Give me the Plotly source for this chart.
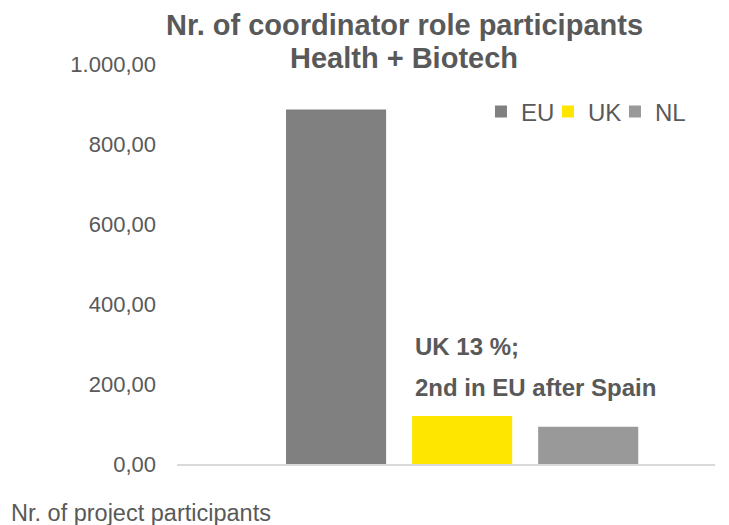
# %% Imports
import plotly.graph_objs as go

# %% Data
categories = ["Health + Biotech"]
series_names = ["EU", "UK", "NL"]
series_values = [[886], [120], [93]]
series_colors = ["#808080", "#FFE600", "#999999"]
y_ticks = [0, 200, 400, 600, 800, 1000]

title_lines = ["Nr. of coordinator role participants", "Health + Biotech"]
note_lines = ["UK 13 %;", "2nd in EU after Spain"]
axis_note = "Nr. of project participants"

txt = "#595959"
font = "Liberation Sans, Arial, sans-serif"

# %% Figure
# the page adds an 8px body margin, so the figure is a little smaller
fig = go.Figure()
for name, vals, col in zip(series_names, series_values, series_colors):
    # tight legend entries like excel's; last one wider so its text fits
    lw = 36 if name == series_names[-1] else 22
    fig.add_trace(go.Bar(x=categories, y=vals, name=name, legendwidth=lw,
                         marker={'color': col, 'line': {'width': 0}}))

fig.update_layout(
    width=721, height=517,
    margin={'l': 169, 'r': 14, 't': 56, 'b': 61},
    paper_bgcolor="white", plot_bgcolor="white",
    separators=",.",
    barmode="group", bargap=0.297, bargroupgap=0.206,
    font={'family': font, 'color': txt, 'size': 22},
    title={'text': "<b>" + title_lines[0] + "</b>",
           'x': 0.55, 'xanchor': 'center',
           'y': 0.967, 'yanchor': 'middle', 'yref': 'container',
           'font': {'size': 29, 'color': txt}},
    legend={'orientation': 'h', 'x': 0.565, 'xanchor': 'left',
            'y': 0.88, 'yanchor': 'middle',
            'font': {'size': 24, 'color': txt},
            'bgcolor': 'rgba(0,0,0,0)', 'traceorder': 'normal'},
    showlegend=True,
)
# second title line, set a bit tighter than plotly's <br> spacing
fig.add_annotation(text="<b>" + title_lines[1] + "</b>", xref="paper",
                   yref="paper", x=0.422, y=1.016, xanchor="center",
                   yanchor="middle", showarrow=False,
                   font={'size': 29, 'color': txt})

fig.update_xaxes(showticklabels=False, showgrid=False, zeroline=False,
                 showline=True, linecolor="#d9d9d9", linewidth=1.5,
                 range=[-0.53, 0.47], ticks="")
fig.update_yaxes(range=[0, 1000], tickvals=y_ticks, tickformat=",.2f",
                 showgrid=False, zeroline=False, showline=False, ticks="",
                 ticklabelstandoff=20, tickfont={'size': 22, 'color': txt})

# note next to the UK bar
for i, line in enumerate(note_lines):
    fig.add_annotation(text="<b>" + line + "</b>", xref="paper", yref="paper",
                       x=0.4387, y=0.295 - i * 0.103, xanchor="left",
                       yanchor="middle", showarrow=False,
                       font={'size': 24, 'color': txt})

fig.add_annotation(text=axis_note, xref="paper", yref="paper",
                   x=-0.312, y=-0.122, xanchor="left", yanchor="middle",
                   showarrow=False, font={'size': 23.5, 'color': txt})

fig.write_html("out.html")
